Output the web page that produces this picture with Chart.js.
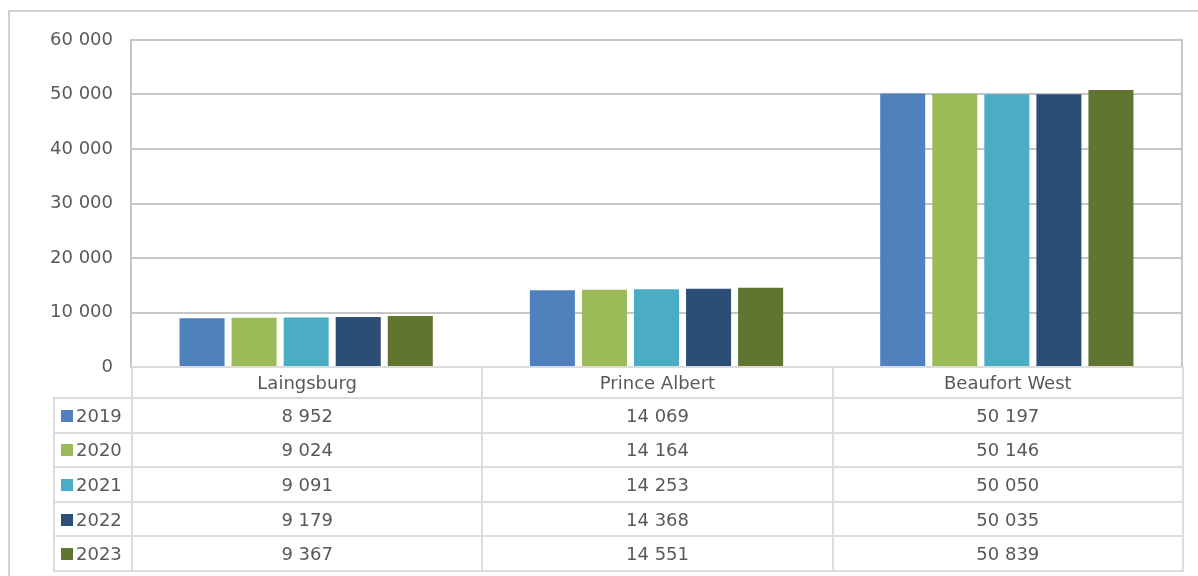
<!DOCTYPE html>
<html lang="en">
<head>
    <meta charset="UTF-8">
    <title>Population by municipality</title>
    <script src="https://cdn.jsdelivr.net/npm/chart.js"></script>
    <style>
        body {
            margin: 0;
            background: #fff;
            font-family: "DejaVu Sans", sans-serif;
            color: #595959;
            overflow: hidden;
        }
        .frame {
            position: absolute;
            left: 8px;
            top: 10px;
            width: 1190px;
            height: 600px;
            border: 2px solid #d0d0d0;
            border-right: none;
        }
        #wrap {
            position: absolute;
            left: 0;
            top: 0;
            width: 1198px;
            height: 576px;
        }
        #dataTable {
            position: absolute;
            border-collapse: collapse;
            table-layout: fixed;
            font-size: 18px;
            color: #595959;
        }
        #dataTable td {
            border: 2px solid #dcdcdc;
            text-align: center;
            padding: 0;
            white-space: nowrap;
        }
        #dataTable td.key {
            text-align: left;
            padding-left: 6px;
        }
        #dataTable td.blank {
            border-left: none;
            border-top: none;
        }
        .sw {
            display: inline-block;
            width: 12px;
            height: 12px;
            margin-right: 3px;
        }
    </style>
</head>
<body>

<div class="frame"></div>
<div id="wrap">
    <canvas id="chart" width="1198" height="576"></canvas>
    <table id="dataTable"></table>
</div>

<script>
    // Данные
    const categories = ['Laingsburg', 'Prince Albert', 'Beaufort West'];
    const years = ['2019', '2020', '2021', '2022', '2023'];
    const values2019 = [8952, 14069, 50197];
    const values2020 = [9024, 14164, 50146];
    const values2021 = [9091, 14253, 50050];
    const values2022 = [9179, 14368, 50035];
    const values2023 = [9367, 14551, 50839];
    const yTicks = [0, 10000, 20000, 30000, 40000, 50000, 60000];

    const seriesValues = [values2019, values2020, values2021, values2022, values2023];
    const colors = ['#4f81bd', '#9bbb59', '#4bacc6', '#2c4d75', '#5f7530'];
    const lineColor = '#c6c6c6';

    function fmt(n) {
        return String(n).replace(/\B(?=(\d{3})+(?!\d))/g, ' ');
    }

    // Таблица под графиком
    function buildTable(chart) {
        const area = chart.chartArea;
        const colW = (area.right - area.left) / categories.length;
        const keyLeft = 53;
        const table = document.getElementById('dataTable');
        table.style.left = keyLeft + 'px';
        table.style.top = (area.bottom - 1) + 'px';
        table.style.width = (area.right - keyLeft + 1) + 'px';

        let html = '<colgroup><col style="width:' + (area.left - keyLeft) + 'px">';
        categories.forEach(() => html += '<col style="width:' + colW + 'px">');
        html += '</colgroup>';

        html += '<tr style="height:31px"><td class="blank"></td>';
        categories.forEach(c => html += '<td>' + c + '</td>');
        html += '</tr>';

        years.forEach((y, i) => {
            html += '<tr style="height:34.6px"><td class="key"><span class="sw" style="background:' + colors[i] + '"></span>' + y + '</td>';
            seriesValues[i].forEach(v => html += '<td>' + fmt(v) + '</td>');
            html += '</tr>';
        });
        table.innerHTML = html;
    }

    const ctx = document.getElementById('chart').getContext('2d');
    const chart = new Chart(ctx, {
        type: 'bar',
        data: {
            labels: categories,
            datasets: years.map((y, i) => ({
                label: y,
                data: seriesValues[i],
                backgroundColor: colors[i],
                borderWidth: 0,
                categoryPercentage: 0.743,
                barPercentage: 0.865
            }))
        },
        options: {
            responsive: false,
            animation: false,
            layout: {
                padding: { top: 40, left: 0, right: 15, bottom: 209 }
            },
            plugins: {
                legend: { display: false },
                tooltip: { enabled: false }
            },
            scales: {
                x: {
                    ticks: { display: false },
                    grid: { display: false, drawTicks: false },
                    border: { color: lineColor, width: 2 }
                },
                y: {
                    min: 0,
                    max: 60000,
                    afterFit: s => { s.width = 131; },
                    afterBuildTicks: s => { s.ticks = yTicks.map(v => ({ value: v })); },
                    ticks: {
                        padding: 18,
                        color: '#595959',
                        font: { family: 'DejaVu Sans', size: 18 },
                        callback: v => fmt(v)
                    },
                    grid: { color: lineColor, lineWidth: 2, drawTicks: false },
                    border: { color: lineColor, width: 2 }
                },
                // правая рамка области графика
                yRight: {
                    position: 'right',
                    min: 0,
                    max: 60000,
                    afterFit: s => { s.width = 1; },
                    ticks: { display: false },
                    grid: { display: false, drawTicks: false },
                    border: { color: lineColor, width: 2 }
                }
            }
        }
    });

    buildTable(chart);
</script>

</body>
</html>
